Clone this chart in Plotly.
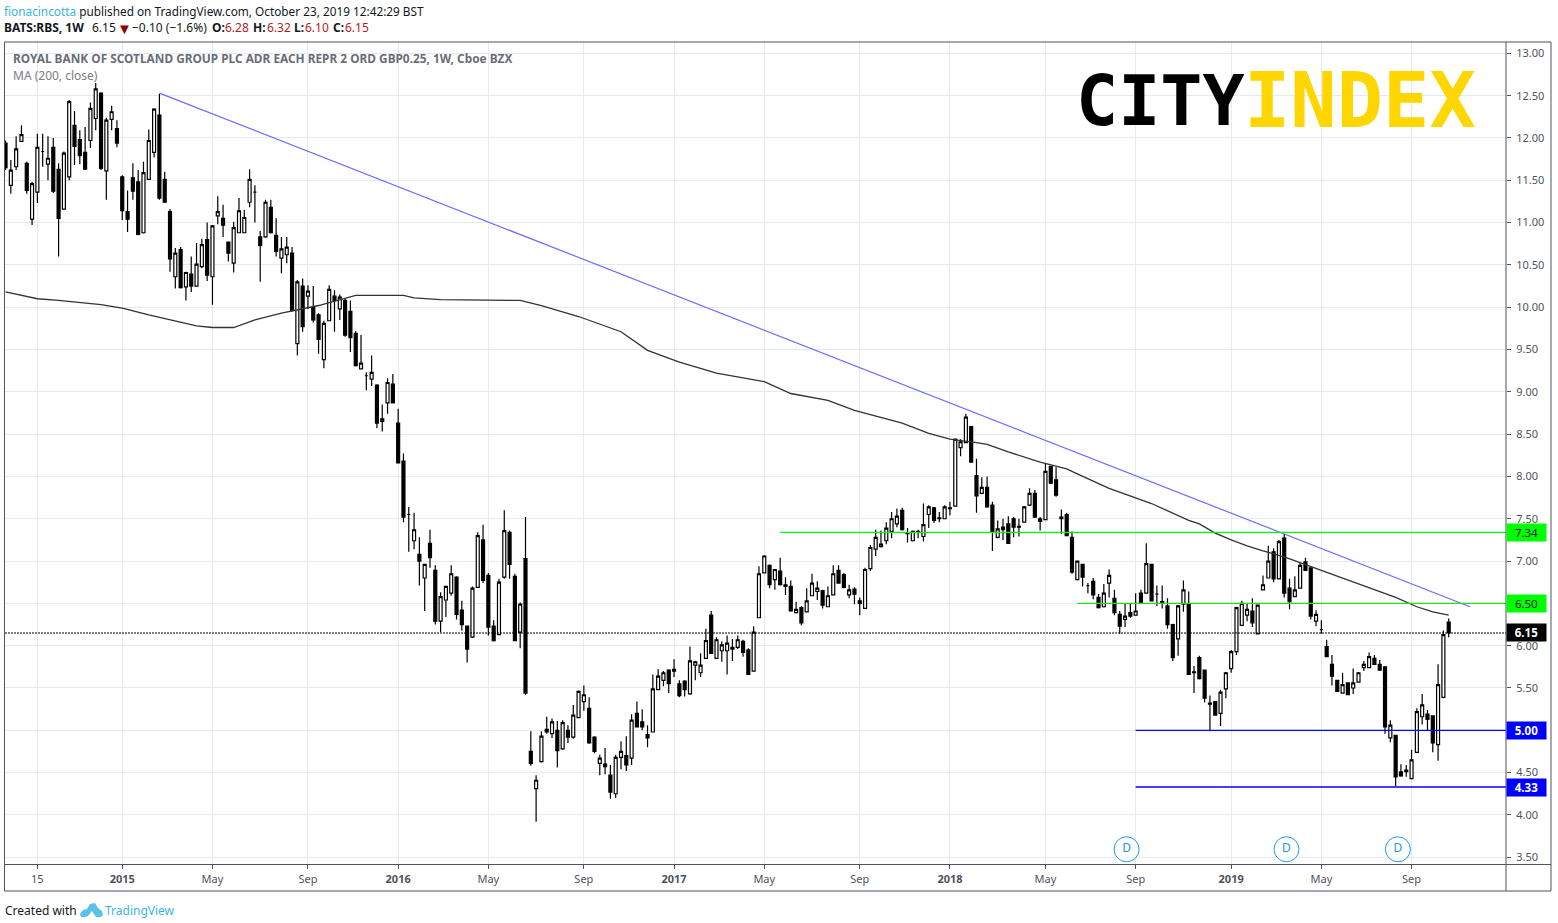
import pandas as pd
import plotly.graph_objects as go

FIRST_BAR = "2014-08-04"

opens = [
 11.94,11.44,11.66,11.96,11.70,11.04,11.36,11.84,11.69,11.89,
 11.63,11.16,11.54,12.15,11.98,11.83,11.97,12.23,12.53,11.61,
 12.22,12.11,11.54,11.13,11.53,11.48,10.88,11.51,11.83,12.27,
 11.51,11.13,10.36,10.68,10.24,10.39,10.25,10.48,10.80,10.36,
 11.08,11.05,10.77,10.52,10.88,10.88,11.24,11.36,10.83,10.83,
 11.18,10.85,10.58,10.62,10.64,9.57,10.25,10.13,10.00,9.91,
 9.38,9.84,10.13,9.98,10.08,9.95,9.69,9.27,9.19,9.15,
 9.08,8.65,8.87,9.09,8.63,8.18,7.55,7.24,7.08,6.80,
 7.21,6.89,6.29,6.54,6.62,6.81,6.42,6.23,6.10,6.69,
 7.25,6.83,6.23,6.13,6.81,7.34,6.82,6.16,7.03,4.75,
 4.31,4.63,5.01,4.96,5.00,4.78,5.00,4.92,5.15,5.34,
 5.26,4.92,4.61,4.60,4.47,4.25,4.68,4.70,4.67,5.20,
 5.10,4.95,4.98,5.48,5.59,5.71,5.72,5.55,5.58,5.43,
 5.77,5.68,5.85,6.36,5.85,5.94,5.94,5.98,5.98,6.05,
 5.95,5.70,6.33,6.86,6.95,6.78,6.88,6.72,6.70,6.39,
 6.45,6.40,6.59,6.64,6.65,6.46,6.60,6.89,6.84,6.60,
 6.67,6.53,6.44,6.91,7.14,7.17,7.24,7.35,7.44,7.60,
 7.335,7.24,7.35,7.29,7.55,7.63,7.51,7.50,7.63,7.65,
 8.34,8.40,8.59,8.01,7.80,7.87,7.66,7.28,7.40,7.44,
 7.50,7.41,7.46,7.66,7.80,7.50,7.49,8.12,7.96,7.52,
 7.55,7.28,6.78,6.96,6.71,6.76,6.57,6.46,6.74,6.56,
 6.37,6.31,6.39,6.36,6.62,6.62,6.96,6.61,6.50,6.47,
 6.25,6.08,6.49,6.49,5.69,5.86,5.71,5.32,5.34,5.20,
 5.49,5.73,5.93,6.24,6.36,6.41,6.14,6.66,6.80,7.11,
 6.79,7.27,6.68,6.58,6.68,6.99,6.92,6.29,6.19,5.99,
 5.78,5.59,5.44,5.56,5.50,5.57,5.74,5.74,5.85,5.78,
 5.75,4.91,4.94,4.51,4.51,4.43,4.74,5.16,5.19,5.17,
 4.83,5.39,6.28]

highs = [
 11.97,11.74,12.02,12.15,11.72,11.48,12.05,12.05,12.02,12.00,
 11.70,11.84,12.45,12.32,12.09,12.13,12.42,12.65,12.54,12.24,
 12.38,12.21,11.56,11.38,11.70,11.62,11.72,12.10,12.35,12.52,
 11.60,11.16,10.70,10.71,10.42,10.60,10.76,10.81,11.00,10.97,
 11.31,11.21,10.77,11.01,11.29,11.15,11.63,11.44,10.90,11.27,
 11.27,11.05,10.83,10.83,10.71,10.32,10.34,10.26,10.25,9.93,
 9.84,10.26,10.20,10.15,10.10,10.08,9.72,9.67,9.23,9.43,
 9.09,8.85,9.16,9.21,8.80,8.27,7.64,7.57,7.28,6.96,
 7.37,6.95,6.63,6.70,6.95,6.82,6.53,6.23,6.70,7.34,
 7.43,6.86,6.30,6.79,7.60,7.36,6.85,6.51,7.52,4.99,
 4.47,4.99,5.16,5.14,5.11,5.12,5.06,5.30,5.47,5.53,
 5.39,4.93,4.71,4.79,4.59,4.71,4.87,4.93,5.19,5.34,
 5.25,5.06,5.66,5.72,5.70,5.72,5.84,5.59,5.59,5.99,
 5.82,5.91,6.20,6.41,6.10,6.05,6.12,6.08,6.12,6.07,
 5.97,6.23,6.94,7.07,6.96,6.90,7.04,6.81,6.77,6.52,
 6.47,6.68,6.85,6.76,6.66,6.70,6.95,6.95,6.86,6.72,
 6.69,6.57,6.92,7.19,7.37,7.36,7.46,7.58,7.62,7.63,
 7.39,7.36,7.37,7.68,7.66,7.64,7.58,7.66,7.70,8.44,
 8.44,8.74,8.59,8.21,7.99,8.00,7.70,7.48,7.50,7.53,
 7.52,7.50,7.65,7.86,7.84,7.52,8.15,8.12,8.11,7.61,
 7.57,7.35,7.00,6.96,6.74,6.80,6.61,6.73,6.90,6.66,
 6.41,6.50,6.50,6.62,6.66,7.21,6.96,6.71,6.71,6.56,
 6.26,6.48,6.77,6.64,5.76,5.88,5.71,5.41,5.34,5.48,
 5.69,5.95,6.46,6.53,6.50,6.56,6.48,6.83,7.18,7.15,
 7.25,7.32,6.79,6.82,6.98,7.04,6.92,6.42,6.30,6.07,
 5.89,5.59,5.68,5.56,5.73,5.69,5.82,5.92,5.89,5.83,
 5.75,5.12,4.94,4.60,4.59,4.77,5.26,5.43,5.24,5.17,
 5.78,6.18,6.32]

lows = [
 11.62,11.34,11.62,11.96,11.34,10.97,11.23,11.66,11.50,11.35,
 10.60,11.16,11.50,11.68,11.69,11.63,11.88,12.09,11.62,11.27,
 12.09,11.89,11.03,10.89,11.27,10.85,10.87,11.51,11.77,11.27,
 11.24,10.42,10.22,10.22,10.08,10.18,10.25,10.46,10.31,10.03,
 10.98,10.83,10.54,10.41,10.88,10.88,11.18,11.00,10.30,10.82,
 10.87,10.60,10.40,10.52,9.96,9.43,9.71,9.98,9.82,9.45,
 9.28,9.84,9.71,9.85,9.65,9.47,9.30,9.27,9.02,9.07,
 8.57,8.53,8.74,8.87,8.16,7.46,7.11,7.14,6.71,6.41,
 6.92,6.25,6.16,6.34,6.59,6.31,6.18,5.80,6.09,6.69,
 6.74,6.12,6.05,6.13,6.79,6.79,6.06,5.97,5.42,4.58,
 3.92,4.62,4.96,4.91,4.56,4.77,4.85,4.90,5.15,5.23,
 4.84,4.73,4.47,4.48,4.19,4.20,4.54,4.52,4.59,5.04,
 5.00,4.80,4.98,5.48,5.52,5.44,5.63,5.39,5.40,5.42,
 5.59,5.63,5.85,5.91,5.85,5.81,5.66,5.82,5.96,5.87,
 5.66,5.70,6.33,6.86,6.68,6.66,6.71,6.60,6.40,6.38,
 6.24,6.40,6.59,6.54,6.44,6.46,6.60,6.74,6.68,6.56,
 6.49,6.36,6.44,6.88,7.06,7.16,7.20,7.27,7.40,7.36,
 7.22,7.23,7.27,7.23,7.39,7.45,7.46,7.50,7.54,7.65,
 8.24,8.40,8.17,7.57,7.79,7.63,7.12,7.27,7.25,7.21,
 7.28,7.29,7.46,7.65,7.51,7.36,7.49,7.91,7.76,7.32,
 7.30,6.85,6.77,6.70,6.62,6.55,6.44,6.45,6.57,6.36,
 6.14,6.22,6.33,6.36,6.51,6.62,6.53,6.47,6.44,6.20,
 5.82,5.88,6.40,5.66,5.44,5.60,5.33,4.99,5.18,5.05,
 5.38,5.68,5.89,6.24,6.29,6.22,6.14,6.66,6.80,6.75,
 6.79,6.57,6.43,6.58,6.68,6.89,6.31,6.23,6.14,5.87,
 5.53,5.46,5.44,5.42,5.43,5.57,5.70,5.74,5.78,5.71,
 4.96,4.86,4.34,4.45,4.45,4.43,4.74,5.07,5.00,4.74,
 4.64,5.38,6.10]

closes = [
 11.65,11.62,11.87,12.04,11.38,11.46,11.89,11.84,11.76,11.37,
 11.05,11.82,12.43,11.90,11.79,11.63,12.35,12.58,11.64,12.21,
 12.31,11.94,11.14,11.04,11.37,10.86,11.59,11.97,12.34,11.29,
 11.24,10.57,10.64,10.23,10.41,10.25,10.51,10.74,10.38,10.96,
 11.13,10.97,10.64,10.94,11.14,11.06,11.51,11.36,10.73,11.24,
 10.88,10.66,10.69,10.71,9.96,10.30,9.77,10.19,9.85,9.62,
 9.81,10.21,10.08,10.12,9.67,9.64,9.31,9.34,9.19,9.23,
 8.63,8.68,9.11,8.87,8.16,7.52,7.55,7.37,7.00,6.96,
 7.04,6.29,6.58,6.70,6.85,6.37,6.25,5.96,6.68,7.30,
 6.77,6.22,6.06,6.75,7.36,6.96,6.06,6.49,5.44,4.61,
 4.41,4.93,4.98,5.10,4.76,5.09,4.92,5.18,5.46,5.42,
 4.85,4.75,4.67,4.57,4.27,4.68,4.75,4.59,5.12,5.04,
 5.04,4.91,5.49,5.64,5.68,5.55,5.70,5.41,5.48,5.82,
 5.81,5.77,6.06,5.91,6.07,6.01,6.03,5.96,6.07,5.92,
 5.66,6.16,6.85,7.06,6.72,6.90,6.72,6.70,6.41,6.43,
 6.27,6.53,6.74,6.68,6.48,6.59,6.85,6.74,6.69,6.66,
 6.61,6.50,6.90,7.16,7.28,7.20,7.39,7.50,7.53,7.37,
 7.325,7.35,7.34,7.43,7.64,7.48,7.50,7.64,7.62,8.44,
 8.41,8.70,8.17,7.77,7.87,7.64,7.34,7.38,7.37,7.21,
 7.40,7.40,7.64,7.80,7.52,7.47,8.06,7.92,7.78,7.50,
 7.30,6.87,7.00,6.81,6.71,6.60,6.45,6.62,6.83,6.39,
 6.23,6.35,6.35,6.41,6.51,6.97,6.53,6.61,6.52,6.25,
 5.86,6.47,6.66,5.66,5.68,5.61,5.38,5.31,5.18,5.45,
 5.68,5.93,6.45,6.50,6.43,6.27,6.48,6.72,7.00,6.79,
 7.23,6.62,6.52,6.66,6.95,6.89,6.35,6.37,6.19,5.87,
 5.64,5.46,5.54,5.42,5.56,5.68,5.78,5.87,5.78,5.71,
 5.04,5.06,4.45,4.46,4.53,4.65,5.22,5.30,5.13,4.85,
 5.54,6.13,6.15]

ma_bars = [0,6,10,18,22,27,36,39,43,47,52,59,66,75,77,82,97,101,108,116,121,127,134,
           143,148,155,160,169,174,178,183,185,189,195,200,202,208,216,223,225,228,
           231,234,237,241,248,253,257,262,266,269,272]
ma_values = [10.18,10.10,10.08,10.03,9.99,9.91,9.78,9.76,9.76,9.85,9.93,10.02,10.14,
             10.14,10.11,10.09,10.08,10.02,9.89,9.71,9.49,9.35,9.22,9.12,8.98,8.90,
             8.78,8.63,8.51,8.44,8.40,8.38,8.29,8.17,8.09,8.03,7.86,7.68,7.48,7.44,
             7.33,7.25,7.18,7.12,7.05,6.89,6.77,6.68,6.57,6.46,6.40,6.36]

trend_dates = ["2015-02-23", "2019-11-18"]
trend_prices = [12.53, 6.46]

resist_734 = (7.34, "2017-05-22")
resist_650 = (6.50, "2018-06-18")
support_500 = (5.00, "2018-09-03")
support_433 = (4.33, "2018-09-03")
last_close = 6.15

dividend_dates = ["2018-08-22", "2019-03-21", "2019-08-15"]
dividend_price = 3.594

tick_dates = ["2014-09-15","2015-01-05","2015-05-04","2015-09-07","2016-01-04","2016-05-02",
              "2016-09-05","2017-01-02","2017-05-01","2017-09-04","2018-01-01","2018-05-07",
              "2018-09-03","2019-01-07","2019-05-06","2019-09-02"]
tick_labels = ["15","2015","May","Sep","2016","May","Sep","2017","May","Sep","2018","May",
               "Sep","2019","May","Sep"]

PL, PR, PT, PB = 5.0, 1506.5, 42.0, 864.0
W, H = 1558, 923
def px(x): return (x - PL) / (PR - PL)
def py(y): return (PB - y) / (PB - PT)

dates = pd.date_range(FIRST_BAR, periods=len(closes), freq="7D")
base = pd.Timestamp("2015-01-05")
x_start = base + pd.Timedelta(days=7 * -22.1)
x_end = base + pd.Timedelta(days=7 * 260.8)
FONT = "Noto Sans"
AXC = "#50535e"
GRID = "#e1ecf2"

fig = go.Figure()
fig.add_trace(go.Candlestick(
    x=dates, open=opens, high=highs, low=lows, close=closes, name="RBS",
    increasing=dict(line=dict(color="#000000", width=1.2), fillcolor="#ffffff"),
    decreasing=dict(line=dict(color="#000000", width=1.2), fillcolor="#000000"),
    showlegend=False))
fig.add_trace(go.Scatter(x=[dates[i] for i in ma_bars], y=ma_values, mode="lines",
                         line=dict(color="#333333", width=1.3), showlegend=False))
fig.add_trace(go.Scatter(x=trend_dates, y=trend_prices, mode="lines",
                         line=dict(color="#6a6aff", width=1.2), showlegend=False))
for (lvl, start), col in [(resist_734, "#00ff00"), (resist_650, "#22dd22"),
                          (support_500, "#0000ff"), (support_433, "#0000ff")]:
    fig.add_trace(go.Scatter(x=[start, x_end], y=[lvl, lvl], mode="lines",
                             line=dict(color=col, width=1.3), showlegend=False))
fig.add_trace(go.Scatter(x=[x_start, x_end], y=[last_close, last_close], mode="lines",
                         line=dict(color="#000000", width=1.1, dash="2px,1px"), showlegend=False))
fig.add_trace(go.Scatter(x=dividend_dates, y=[dividend_price] * 3, mode="markers+text",
                         text=["D"] * 3, textposition="middle center",
                         textfont=dict(family=FONT, size=12, color="#2196f3"),
                         marker=dict(size=25, color="#ffffff", line=dict(color="#2196f3", width=1)),
                         cliponaxis=False, showlegend=False))

annotations = []
def label(x, y, text, size=12, color="#131722", **kw):
    annotations.append(dict(xref="paper", yref="paper", x=px(x), y=py(y), text=text, showarrow=False,
                            xanchor="left", yanchor="middle", align="left",
                            font=dict(family=FONT, size=size, color=color), **kw))

RED = "#b71c1c"
label(2, 11, '<span style="color:#3bb3e4">fionacincotta</span> published on TradingView.com, October 23, 2019 12:42:29 BST', size=11.8)
label(2, 28, "<b>BATS:RBS, 1W</b>", size=12)
label(90, 28, "6.15", size=12)
label(115, 28, "▼", size=15, color="#8b0000")
label(130, 28, "−0.10 (−1.6%)", size=12)
for x_pos, head, x_val, val in [(210, "O:", 223, "6.28"), (251, "H:", 265, "6.32"),
                                (292, "L:", 303, "6.10"), (331, "C:", 343, "6.15")]:
    label(x_pos, 28, f"<b>{head}</b>", size=12)
    label(x_val, 28, val, size=12, color=RED)
label(11, 58, "<b>ROYAL BANK OF SCOTLAND GROUP PLC ADR EACH REPR 2 ORD GBP0.25, 1W, Cboe BZX</b>",
      size=11.85, color="#6a6d78")
label(11, 75, "MA (200, close)", color="#7a7d85")
label(3, 910, "Created with")
label(103, 910, "TradingView", color="#3bb3e4")

for x_pos, word, col, fs in [(1075, "CITY", "#000000", 70), (1243, "INDEX", "#ffd600", 77)]:
    annotations.append(dict(xref="paper", yref="paper", x=px(x_pos), y=py(101), showarrow=False,
                            xanchor="left", yanchor="middle", borderpad=0,
                            text=f"<b>{word}</b>",
                            font=dict(family="DejaVu Sans Mono", size=fs, color=col)))

for lvl, bg, fg, bold in [(7.34, "#00ff00", "#131722", False), (6.50, "#00ff00", "#131722", False),
                          (last_close, "#000000", "#ffffff", True), (5.00, "#0000ff", "#ffffff", True),
                          (4.33, "#0000ff", "#ffffff", True)]:
    t = f"{lvl:.2f}"
    annotations.append(dict(xref="paper", yref="y", x=px(1506), y=lvl, showarrow=False,
                            xanchor="left", yanchor="middle", width=39, height=17, bgcolor=bg,
                            borderpad=0, text=f"<b>{t}</b>" if bold else t,
                            font=dict(family=FONT, size=11.5, color=fg)))

shapes = [
    dict(type="rect", xref="paper", yref="paper", x0=px(1078), x1=px(1482), y0=py(71), y1=py(131),
         line=dict(width=0), fillcolor="#ffffff", layer="below"),
    dict(type="rect", xref="paper", yref="paper", x0=px(4.5), x1=px(1551.5), y0=py(42), y1=py(891),
         line=dict(color=AXC, width=1), fillcolor="rgba(0,0,0,0)", layer="above"),
    dict(type="line", xref="paper", yref="paper", x0=px(1506.5), x1=px(1506.5), y0=py(42), y1=py(891),
         line=dict(color=AXC, width=1), layer="above"),
    dict(type="line", xref="paper", yref="paper", x0=px(4.5), x1=px(1551.5), y0=py(864.5), y1=py(864.5),
         line=dict(color=AXC, width=1), layer="above"),
]
def P(pts):
    return "M " + " L ".join(f"{px(a):.5f},{py(b):.5f}" for a, b in pts) + " Z"
shapes.append(dict(type="path", xref="paper", yref="paper", fillcolor="#5bc0e8", line=dict(width=0),
                   path=P([(80, 914), (83, 910), (87, 909), (90, 904), (95, 903), (98, 908), (102, 911),
                           (103, 915), (101, 917), (96, 917), (92, 911), (88, 916), (85, 917), (81, 917)])))

fig.update_layout(
    width=W, height=H, autosize=False, paper_bgcolor="#ffffff", plot_bgcolor="#ffffff",
    margin=dict(l=PL, r=W - PR, t=PT, b=H - PB, pad=0), showlegend=False, boxgap=0.2,
    annotations=annotations, shapes=shapes,
    xaxis=dict(type="date", range=[x_start, x_end], rangeslider=dict(visible=False),
               tickmode="array", tickvals=tick_dates,
               ticktext=[f"<b>{t}</b>" if len(t) == 4 else t for t in tick_labels],
               ticks="outside", ticklen=4, tickcolor=AXC, showgrid=True, gridcolor=GRID, gridwidth=1,
               zeroline=False, showline=False, ticklabelstandoff=1,
               tickfont=dict(family=FONT, size=11, color=AXC)),
    yaxis=dict(side="right", range=[3.42, 13.134], dtick=0.5, tick0=3.5, tickformat=".2f",
               ticks="outside", ticklen=4, tickcolor=AXC, showgrid=True, gridcolor=GRID, gridwidth=1,
               zeroline=False, showline=False, ticklabelstandoff=3,
               tickfont=dict(family=FONT, size=11, color=AXC)),
)
fig.write_html("out.html", config=dict(displayModeBar=False),
               post_script="document.body.style.margin='0';document.documentElement.style.overflow='hidden';window.dispatchEvent(new Event('resize'));")
